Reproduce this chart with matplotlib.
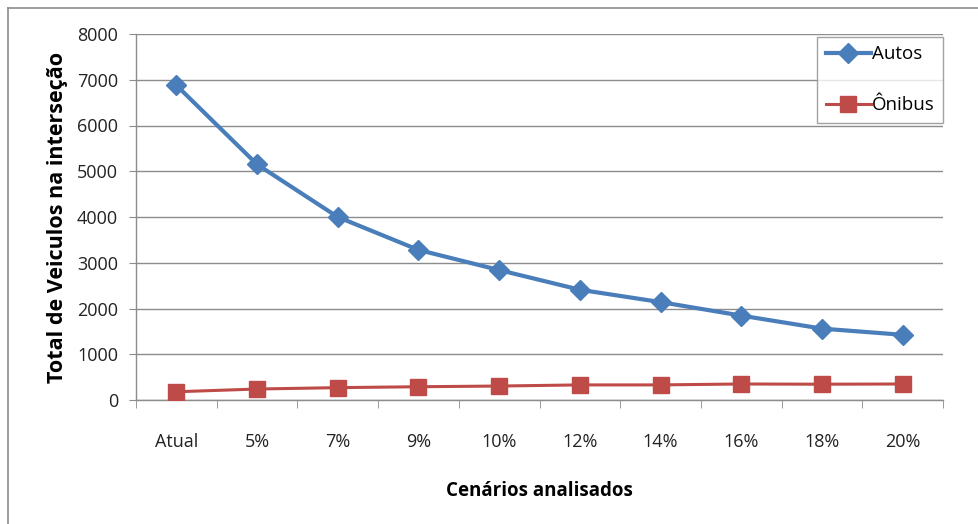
import matplotlib

matplotlib.use("Agg")
import matplotlib.pyplot as plt
from matplotlib.lines import Line2D

# Scenario data
cenarios = ["Atual", "5%", "7%", "9%", "10%", "12%", "14%", "16%", "18%", "20%"]
autos = [6880, 5150, 4000, 3280, 2840, 2410, 2140, 1845, 1560, 1425]
onibus = [180, 240, 270, 290, 305, 330, 330, 350, 345, 350]

plt.rcParams["font.family"] = ["Open Sans", "DejaVu Sans"]

W, H = 979, 524
fig = plt.figure(figsize=(W / 100, H / 100), dpi=100)
ax = fig.add_axes([136 / W, 1 - 400 / H, (943 - 136) / W, (400 - 34) / H])

x = list(range(len(cenarios)))
ax.plot(x, autos, color="#4A7EBB", lw=3.0, marker="D", ms=10, label="Autos", zorder=3)
ax.plot(x, onibus, color="#BE4B48", lw=2.2, marker="s", ms=11.5, label="Ônibus", zorder=3)

ax.set_xlim(-0.5, len(cenarios) - 0.5)
ax.set_ylim(0, 8000)
ax.set_yticks(range(0, 8001, 1000))
ax.set_xticks(x)
ax.set_xticklabels(cenarios)
ax.set_xticks([i + 0.5 for i in range(-1, len(cenarios))], minor=True)

ax.grid(axis="y", color="#8c8c8c", lw=1.0)
ax.set_axisbelow(True)
for side in ("top", "right"):
    ax.spines[side].set_visible(False)
for side in ("left", "bottom"):
    ax.spines[side].set_color("#8c8c8c")
    ax.spines[side].set_linewidth(1.0)

ax.tick_params(axis="y", length=5, color="#8c8c8c", labelsize=13, pad=8, labelcolor="#222222")
ax.tick_params(axis="x", which="major", length=0, labelsize=13, pad=24, labelcolor="#222222")
ax.tick_params(axis="x", which="minor", length=6, color="#8c8c8c")

ax.set_ylabel("Total de Veiculos na interseção", fontsize=15.5, fontweight="bold", labelpad=6)
ax.set_xlabel("Cenários analisados", fontsize=13.5, fontweight="bold", labelpad=21)

leg = ax.legend(loc="upper right", bbox_to_anchor=(1.0, 0.992), fontsize=13.5,
                frameon=True, fancybox=False, edgecolor="#8c8c8c",
                labelspacing=1.75, handlelength=2.4, handletextpad=0.05,
                borderpad=0.45, borderaxespad=0.0)
leg.get_frame().set_linewidth(1.0)

# Outer chart frame (top and left edges)
fig.add_artist(Line2D([8 / W, 1.0], [1 - 8 / H, 1 - 8 / H], color="#8c8c8c", lw=1.2,
                      transform=fig.transFigure))
fig.add_artist(Line2D([8 / W, 8 / W], [0.0, 1 - 8 / H], color="#8c8c8c", lw=1.2,
                      transform=fig.transFigure))

fig.savefig("out.png", dpi=100)
